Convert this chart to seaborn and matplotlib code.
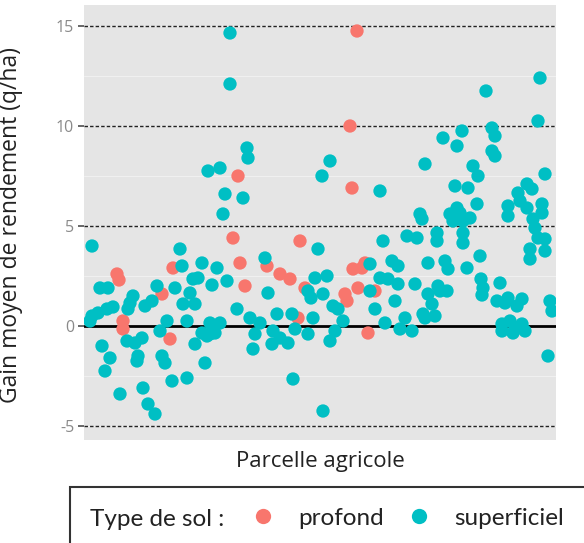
import numpy as np
import pandas as pd
import matplotlib
matplotlib.use("Agg")
import matplotlib.pyplot as plt
import seaborn as sns
from matplotlib.lines import Line2D
from matplotlib.patches import Rectangle

# ---- data ----
parcelle_profond = [16.5, 17.5, 19.5, 19.5, 39, 43, 44.5, 74.5, 77, 78, 80.5, 91.5, 98, 103,
                    107, 108, 110.5, 130.5, 131.5, 133, 134, 134.5, 136.5, 137, 139, 140.5,
                    142, 145.5]
gain_profond = [2.6, 2.3, 0.25, -0.15, 1.6, -0.65, 2.9, 4.4, 7.5, 3.15, 2.0, 3.0, 2.6, 2.35,
                0.4, 4.25, 1.9, 1.6, 1.25, 10.0, 6.9, 2.85, 14.75, 1.9, 2.9, 3.15,
                -0.35, 1.75]

parcelle_superficiel = [
    4, 8, 12, 4, 3, 7, 11.5, 14.5, 22, 21.5, 9, 13, 10.5, 18, 24.5, 23, 25.5, 29, 30.5, 34,
    27, 26.5, 29.5, 32, 35.5, 36.5, 38, 41.5, 39, 40.5, 44, 45.5, 48, 49, 49.5, 51.5, 51.5,
    53, 54.5, 55.5, 55.5, 57, 59, 59, 60.5, 61.5, 62, 63, 63, 64, 65.5, 66.5, 68, 68, 69.5,
    70.5, 71.5, 73, 73, 76.5, 79.5, 81.5, 82, 83, 84.5, 85.5, 88, 90.5, 92, 94, 94.5, 96.5,
    98, 102, 104, 104.5, 105.5, 112, 112, 113.5, 114.5, 115.5, 117, 119, 119.5, 119.5, 121.5,
    123, 123, 124.5, 125.5, 127, 129.5, 143, 143, 145.5, 148, 148, 149.5, 150.5, 152, 154,
    155.5, 157, 157, 158, 160.5, 161.5, 164, 165.5, 166.5, 168, 169, 169.5, 170.5, 170.5,
    172, 172, 174, 175.5, 176.5, 176.5, 177, 178, 179.5, 180.5, 181.5, 182, 183, 184.5,
    185.5, 186.5, 186.5, 188, 189, 189.5, 189.5, 189.5, 191.5, 192, 193, 194.5, 196.5, 197,
    198, 198.5, 199.5, 199, 201, 204, 205.5, 204, 205.5, 206.5, 208, 209, 210.5, 212, 212,
    212, 213, 214.5, 215.5, 216.5, 217, 218, 219, 219, 220.5, 221.5, 221.5, 223, 223, 224,
    224.5, 225.5, 227, 227, 228, 229, 229, 230.5, 230.5, 230.5, 232, 233, 234, 209]
gain_superficiel = [
    4.0, 1.9, 1.9, 0.5, 0.25, 0.65, 0.85, 0.95, 0.85, -0.75, -1.0, -1.6, -2.25, -3.4, 1.5,
    1.15, -0.85, -0.6, 1.0, 1.25, -1.5, -1.75, -3.1, -3.9, -4.4, 2.0, -0.25, 0.25, -1.5,
    -1.85, -2.75, 1.9, 3.85, 3.0, 1.1, 0.25, -2.6, 1.65, 2.35, 1.1, -0.9, 2.4, 3.15, -0.35,
    -1.85, -0.5, 7.75, 0.15, -0.4, 2.05, -0.35, 2.9, 7.9, 0.15, 5.6, 6.6, 2.25, 14.65, 12.1,
    0.85, 6.4, 8.9, 8.4, 0.4, -1.15, -0.4, 0.15, 3.4, 1.65, -0.9, -0.25, 0.6, -0.6, -0.85,
    0.6, -2.65, -0.15, 1.75, -0.4, 1.4, 0.4, 2.4, 3.85, 7.5, 1.6, -4.25, 2.5, 8.25, -0.75,
    1.0, -0.25, 0.85, 0.25, 3.1, 1.75, 0.85, 6.75, 2.4, 4.25, 0.15, 2.35, 3.25, 1.25, 3.0,
    2.1, -0.15, 0.4, 4.5, -0.25, 2.1, 4.4, 5.6, 5.35, 0.6, 8.1, 0.4, 3.15, 1.6, 1.1, 0.5,
    4.65, 4.25, 2.0, 1.75, 9.4, 3.25, 1.75, 2.85, 5.6, 5.25, 7.0, 9.0, 5.9, 5.65, 9.75,
    5.25, 4.65, 4.15, 2.9, 6.9, 5.4, 8.0, 6.1, 7.5, 3.5, 2.35, 1.9, 1.55, 11.75, 9.9, 9.5,
    8.75, 8.5, 1.25, 2.15, 0.1, 1.15, 1.4, 6.0, 5.5, 0.25, -0.35, -0.1, 1.0, 6.65, 6.25,
    1.35, 0.1, -0.25, 7.1, 5.9, 3.35, 3.85, 6.85, 5.35, 4.9, 10.25, 4.4, 12.4, 6.1, 5.65,
    7.6, 4.35, 3.75, -1.5, 1.25, 0.75, -0.25]

types_sol = ["profond", "superficiel"]
couleurs = ["#F8766D", "#00BFC4"]
y_ticks = [-5, 0, 5, 10, 15]
y_tick_labels = ["-5", "0", "5", "10", "15"]

df = pd.DataFrame({
    "parcelle": parcelle_profond + parcelle_superficiel,
    "gain": gain_profond + gain_superficiel,
    "sol": [types_sol[0]] * len(gain_profond) + [types_sol[1]] * len(gain_superficiel),
})

sns.set_theme(style="darkgrid", rc={"axes.facecolor": "#E5E5E5", "grid.color": "#F0F0F0",
                                    "grid.linewidth": 0.8})
plt.rcParams["font.family"] = ["Open Sans", "DejaVu Sans"]

W, H = 584, 543
fig = plt.figure(figsize=(W / 100, H / 100), dpi=100)
fig.patch.set_facecolor("white")
ax = fig.add_axes([84 / W, 1 - 440 / H, (556 - 84) / W, (440 - 5) / H])

palette = dict(zip(types_sol, couleurs))
sns.scatterplot(data=df, x="parcelle", y="gain", hue="sol", palette=palette, s=92,
                edgecolor="none", linewidth=0, alpha=1, ax=ax, legend=False, zorder=3)

ax.set_xlim(0, 236)
ax.set_ylim(-5.7, 16.05)
ax.set_xticks([])
ax.set_yticks(y_ticks)
ax.set_yticklabels(y_tick_labels, color="#8A8A8A", fontsize=11.5)
ax.set_yticks([-2.5, 2.5, 7.5, 12.5], minor=True)
ax.grid(True, which="minor", axis="y", color="#F0F0F0", linewidth=0.8)
ax.grid(False, axis="x")
ax.tick_params(axis="y", which="major", length=4, color="#555555", left=True, pad=3)
ax.tick_params(axis="y", which="minor", length=0)
for v in [-5, 5, 10, 15]:
    ax.axhline(v, color="#222222", linestyle=(0, (2.5, 1.5)), linewidth=1.0, zorder=2)
ax.axhline(0, color="black", linewidth=2.0, zorder=2)
for s in ax.spines.values():
    s.set_visible(False)

ax.set_xlabel("Parcelle agricole", fontsize=16, color="#222222", labelpad=8)
ax.set_ylabel("Gain moyen de rendement (q/ha)", fontsize=16.5, color="#222222")
ax.yaxis.set_label_coords(-0.13, 0.495)

# legend box at the bottom
fig.add_artist(Rectangle((70 / W, -0.05), 1.0, (543 - 487) / H + 0.05,
                         transform=fig.transFigure, facecolor="white",
                         edgecolor="#333333", linewidth=1.5, clip_on=False))
fig.text(90 / W, 1 - 520 / H, "Type de sol :", fontsize=17.5, color="#222222",
         va="center", ha="left", family=["Lato", "DejaVu Sans"])
handles = [Line2D([], [], marker="o", linestyle="none", markersize=11,
                  markerfacecolor=c, markeredgecolor="none") for c in couleurs]
fig.legend(handles, types_sol, ncol=2, frameon=False, loc="center left",
           bbox_to_anchor=(229 / W, 1 - 518 / H), prop={"family": "Lato", "size": 17.5},
           handlelength=1.0, handletextpad=0.95, columnspacing=0.95, labelcolor="#222222")

fig.savefig("out.png", dpi=100)
